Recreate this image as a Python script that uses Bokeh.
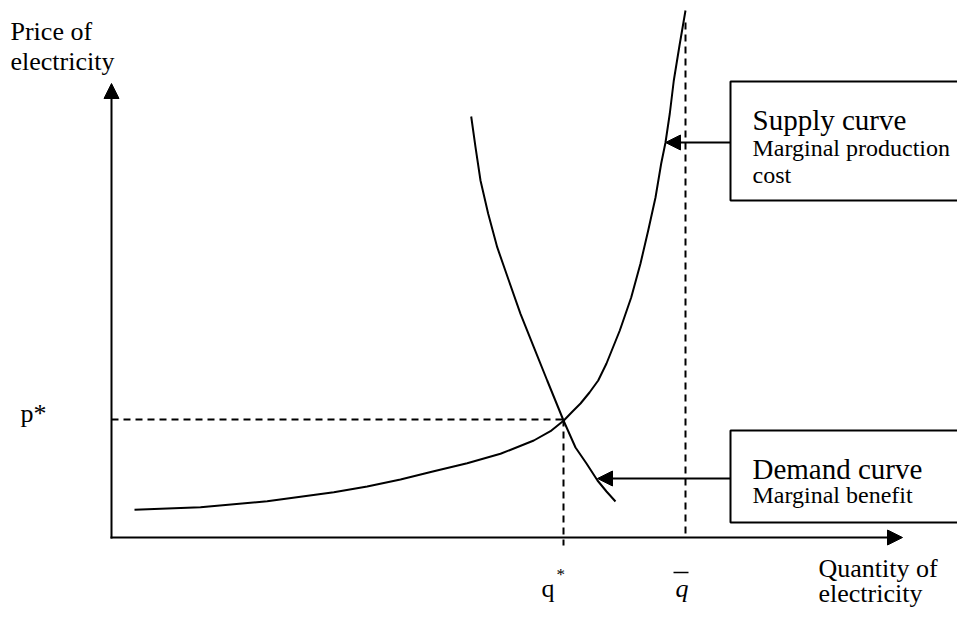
from bokeh.plotting import figure
from bokeh.models import Range1d, Arrow, NormalHead, Label
from bokeh.core.properties import value
from bokeh.embed import file_html
from bokeh.resources import INLINE

# ---- data (schematic units: quantity on x, price on y) ----
supply_quantity = [134, 200, 266.7, 333.3, 366.7, 400, 433.3, 466.7, 500, 533.3, 550, 563.3,
                   572, 580, 589, 597.7, 606, 619.3, 630.7, 640, 647.7, 655, 660.7, 665,
                   669.3, 673.3, 679, 685]
supply_price    = [107.7, 110.3, 116.3, 125.3, 131, 138, 146.3, 154.3, 163.7, 177, 186.3, 197,
                   206, 214, 225, 237, 254, 287, 320, 354, 387, 420, 454, 475,
                   504, 537, 572, 607]

demand_quantity = [470.7, 475, 480, 487.7, 496.7, 508.3, 520, 533.3, 546.7, 563, 575, 586, 597, 606, 615]
demand_price    = [501, 470.3, 437, 403.7, 370.3, 337, 303.7, 270.3, 237, 197, 170, 154, 137, 126, 116]

q_star = 563
p_star = 198
q_bar = 685

axis_origin_q = 111
axis_origin_p = 80
axis_end_q = 902
axis_end_p = 534

SERIF = "Liberation Serif"

p = figure(width=957, height=609, output_backend="svg", toolbar_location=None,
           x_range=Range1d(0, 957), y_range=Range1d(8, 617), min_border=0)
p.axis.visible = False
p.grid.visible = False
p.outline_line_color = None
p.background_fill_color = "white"

head = dict(size=15, fill_color="black", line_color="black")

# axes with arrow heads
p.add_layout(Arrow(end=NormalHead(**head),
                   x_start=axis_origin_q, y_start=axis_origin_p - 1, x_end=axis_origin_q, y_end=axis_end_p,
                   line_width=2, line_color="black"))
p.add_layout(Arrow(end=NormalHead(**head),
                   x_start=axis_origin_q - 1, y_start=axis_origin_p, x_end=axis_end_q, y_end=axis_origin_p,
                   line_width=2, line_color="black"))

# dashed guide lines
p.line([axis_origin_q, q_star], [p_star, p_star], line_dash="7 5", line_width=2, line_color="black")
p.line([q_star, q_star], [p_star, 72], line_dash="7 5", line_width=2, line_color="black")
p.line([q_bar, q_bar], [595, axis_origin_p], line_dash="7 5", line_width=2, line_color="black")

# curves
p.line(supply_quantity, supply_price, line_width=2, line_color="black")
p.line(demand_quantity, demand_price, line_width=2, line_color="black")

# boxes
p.quad(left=[730, 730], right=[985, 985], top=[536, 187], bottom=[417, 95],
       fill_color="white", line_color="black", line_width=2)

# box arrows
p.add_layout(Arrow(end=NormalHead(**head),
                   x_start=730, y_start=475, x_end=665, y_end=475, line_width=2, line_color="black"))
p.add_layout(Arrow(end=NormalHead(**head),
                   x_start=730, y_start=139, x_end=597, y_end=139, line_width=2, line_color="black"))

# texts
def txt(x, y, s, size, style="normal"):
    p.add_layout(Label(x=x, y=y, text=s, text_font=SERIF, text_font_size=size,
                       text_font_style=style, text_align="left", text_baseline="alphabetic",
                       text_color="black"))

txt(10, 586, "Price of", "26px")
txt(10, 556, "electricity", "26px")
txt(818, 49, "Quantity of", "26px")
txt(818, 24, "electricity", "26px")
txt(20, 204, "p*", "26px")
txt(541, 29, "q", "26px")
txt(556, 43, "*", "17px")
txt(675, 29, "q", "26px", "italic")
p.line([673, 688], [45, 45], line_width=1.5, line_color="black")

txt(752, 498, "Supply curve", "29px")
txt(752, 470, "Marginal production", "24px")
txt(752, 443, "cost", "24px")
txt(752, 149, "Demand curve", "29px")
txt(752, 123, "Marginal benefit", "24px")

open("out.html", "w").write(file_html(p, INLINE))
